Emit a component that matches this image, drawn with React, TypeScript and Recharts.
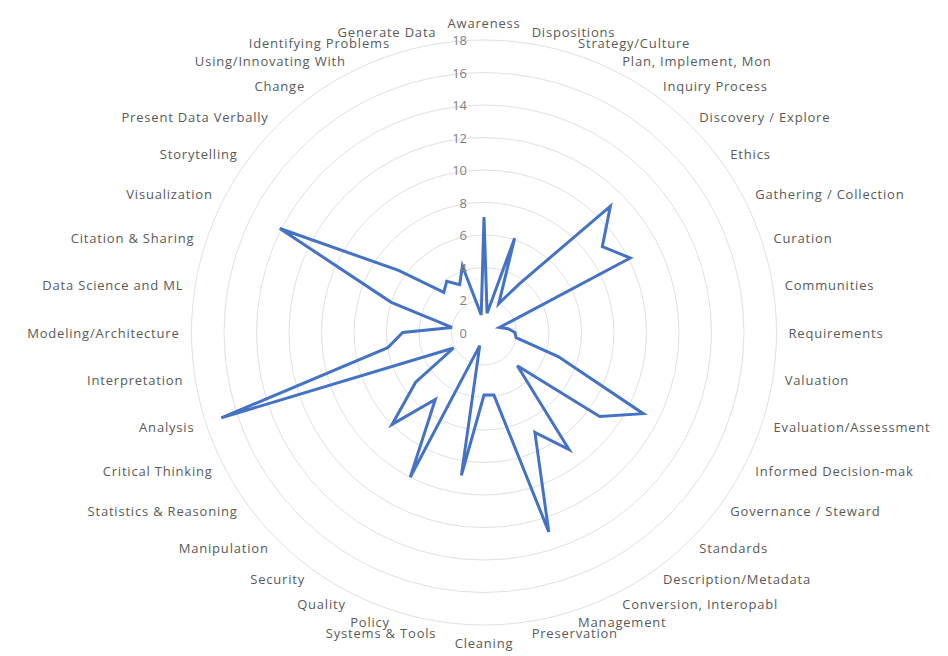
import { RadarChart, Radar, PolarGrid, PolarAngleAxis, PolarRadiusAxis } from 'recharts';

// カテゴリ（上から時計回り）
const skills = [
  'Awareness', 'Dispositions', 'Strategy/Culture', 'Plan, Implement, Mon', 'Inquiry Process',
  'Discovery / Explore', 'Ethics', 'Gathering / Collection', 'Curation', 'Communities',
  'Requirements', 'Valuation', 'Evaluation/Assessment', 'Informed Decision-mak', 'Governance / Steward',
  'Standards', 'Description/Metadata', 'Conversion, Interopabl', 'Management', 'Preservation',
  'Cleaning', 'Systems & Tools', 'Policy', 'Quality', 'Security',
  'Manipulation', 'Statistics & Reasoning', 'Critical Thinking', 'Analysis', 'Interpretation',
  'Modeling/Architecture', 'Data Science and ML', 'Citation & Sharing', 'Visualization', 'Storytelling',
  'Present Data Verbally', 'Change', 'Using/Innovating With', 'Identifying Problems', 'Generate Data',
];

const counts = [
  7.1, 1.2, 6.1, 2.0, 3.7,
  11.0, 9.0, 10.1, 1.0, 1.5,
  1.9, 2.0, 4.8, 11.0, 8.8,
  2.9, 8.9, 6.9, 12.9, 3.9,
  3.85, 8.9, 0.85, 10.0, 5.1,
  8.0, 5.2, 2.1, 17.0, 6.0,
  5.0, 2.0, 6.0, 14.1, 6.5,
  3.5, 3.9, 3.3, 4.3, 1.1,
];

const radiusTicks = [0, 2, 4, 6, 8, 10, 12, 14, 16, 18];

const CX = 476;
const CY = 324.5;
const FONT = '"Open Sans", "Liberation Sans", sans-serif';

const chartData = skills.map((name, i) => ({ name, value: counts[i] }));

function AngleTick(props: any) {
  const { x, y, textAnchor, payload } = props;
  let baseline = 'central';
  if (Math.abs(x - CX) < 1) baseline = y < CY ? 'auto' : 'hanging';
  return (
    <text x={x} y={y} textAnchor={textAnchor} dominantBaseline={baseline}
      fill="#595959" fontSize={13} letterSpacing={0.8} fontFamily={FONT}>
      {payload.value}
    </text>
  );
}

function RadiusTick(props: any) {
  const { x, y, payload } = props;
  return (
    <text x={x - 17} y={y} textAnchor="end" dominantBaseline="central"
      fill="#7f7f7f" fontSize={13} fontFamily={FONT}>
      {payload.value}
    </text>
  );
}

export default function App() {
  return (
    <RadarChart width={940} height={648} data={chartData} cx={CX} cy={CY} outerRadius={292.5}
      margin={{ top: 0, right: 0, bottom: 0, left: 0 }}>
      <PolarGrid gridType="circle" radialLines={false} stroke="#e0e0e0" />
      <PolarAngleAxis dataKey="name" tick={<AngleTick />} tickSize={12} tickLine={false} axisLine={false} />
      <PolarRadiusAxis angle={90} domain={[0, 18]} ticks={radiusTicks as any} tickCount={10}
        axisLine={false} tick={<RadiusTick />} />
      <Radar dataKey="value" stroke="#4472C4" strokeWidth={3} fill="none" fillOpacity={0}
        dot={false} isAnimationActive={false} strokeLinejoin="miter" />
    </RadarChart>
  );
}
